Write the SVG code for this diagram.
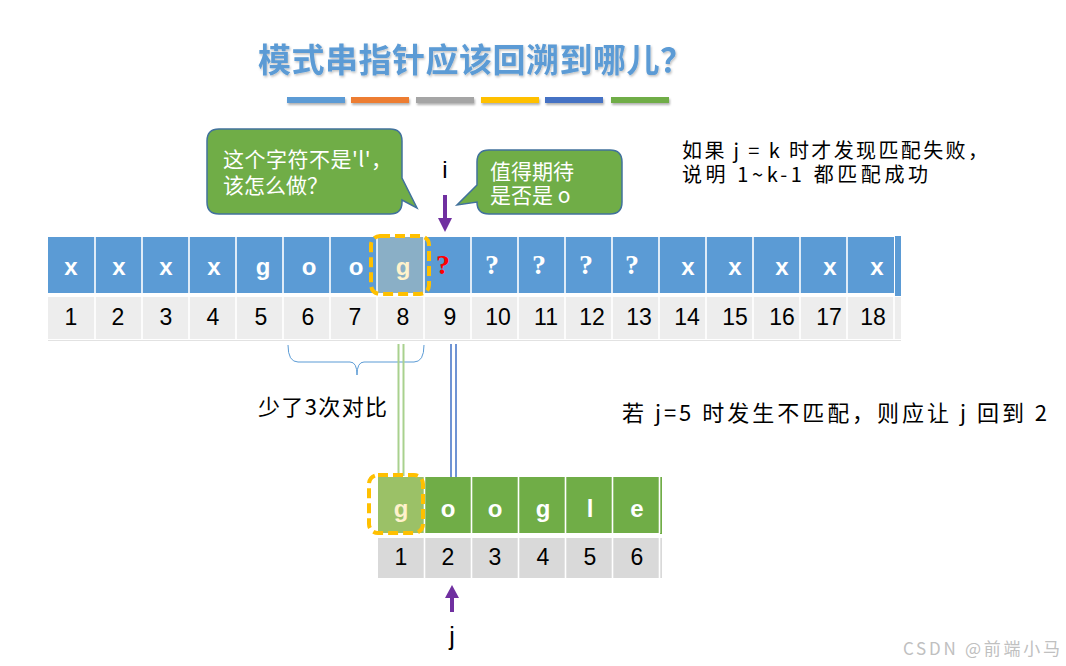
<svg xmlns="http://www.w3.org/2000/svg" width="1066" height="666" viewBox="0 0 1066 666">
<defs>
<filter id="sh" x="-10%" y="-40%" width="130%" height="200%">
<feDropShadow dx="1" dy="2" stdDeviation="1.2" flood-color="#000" flood-opacity="0.3"/>
</filter>
<filter id="tsh" x="-5%" y="-20%" width="110%" height="150%">
<feDropShadow dx="1" dy="1.5" stdDeviation="1" flood-color="#000" flood-opacity="0.25"/>
</filter>
</defs>
<style>
.cjk{font-family:"Noto Sans CJK SC","Noto Sans",sans-serif;}
.lat{font-family:"Liberation Sans",Arial,sans-serif;}
.cell{font-family:"Liberation Sans",Arial,sans-serif;font-weight:bold;font-size:24px;fill:#fff;text-anchor:middle;}
.q{font-family:"Liberation Serif","Times New Roman",serif;font-weight:bold;font-size:28px;fill:#fff;text-anchor:middle;}
.num{font-family:"Liberation Sans",Arial,sans-serif;font-size:23px;fill:#000;text-anchor:middle;}
.sep{stroke:#fff;stroke-width:1.6;}
.call{fill:#70AD47;stroke:#41719C;stroke-width:1.5;}
.ctext{font-family:"Noto Sans CJK SC",sans-serif;font-size:21px;fill:#fff;}
.dash{fill:none;stroke:#FFC000;stroke-width:4;stroke-dasharray:10 5;}
.arrow{fill:#7030A0;}
.body{font-family:"Noto Sans CJK SC",sans-serif;fill:#000;}
</style>
<rect width="1066" height="666" fill="#fff"/>

<g id="title">
<text x="258" y="72" class="cjk" font-size="33" font-weight="bold" fill="#5B9BD5" filter="url(#tsh)" textLength="435" lengthAdjust="spacing">模式串指针应该回溯到哪儿？</text>
<g filter="url(#sh)">
<rect x="287" y="97" width="58" height="6" fill="#5B9BD5"/>
<rect x="351" y="97" width="58" height="6" fill="#ED7D31"/>
<rect x="416" y="97" width="58" height="6" fill="#A5A5A5"/>
<rect x="481" y="97" width="58" height="6" fill="#FFC000"/>
<rect x="545" y="97" width="58" height="6" fill="#4472C4"/>
<rect x="611" y="97" width="58" height="6" fill="#70AD47"/>
</g>
</g>

<g id="callout-l">
<path class="call" d="M219,129 H390 Q402,129 402,141 V178 L417,208 L402,200 V202 Q402,214 390,214 H219 Q207,214 207,202 V141 Q207,129 219,129 Z"/>
<text class="ctext" x="223" y="167" textLength="169" lengthAdjust="spacing">这个字符不是'l'，</text>
<text class="ctext" x="223" y="193">该怎么做？</text>
</g>

<g id="callout-o">
<path class="call" d="M489,150 H610 Q622,150 622,162 V202 Q622,214 610,214 H489 Q477,214 477,202 L457,205 L477,185 V162 Q477,150 489,150 Z"/>
<text class="ctext" x="490" y="179">值得期待</text>
<text class="ctext" x="490" y="203">是否是 o</text>
</g>

<g id="pointer-i">
<text x="445" y="178" class="lat" font-size="24" text-anchor="middle">i</text>
<rect x="443" y="195" width="4" height="24" class="arrow"/>
<polygon points="438,218 452,218 445,232" class="arrow"/>
</g>

<g id="note-top">
<text x="682" y="158" class="body" font-size="20" textLength="306" lengthAdjust="spacing">如果 j = k 时才发现匹配失败，</text>
<text x="682" y="182" class="body" font-size="20" textLength="246" lengthAdjust="spacing">说明 1~k-1 都匹配成功</text>
</g>

<g id="main-string">
<rect x="48" y="237" width="846" height="56" fill="#5B9BD5"/>
<rect x="895" y="236" width="6" height="60" fill="#5B9BD5"/>
<rect x="377" y="237" width="47" height="56" fill="#8AAFC6"/>
<path class="sep" d="M95,237V293M142,237V293M189,237V293M236,237V293M283,237V293M330,237V293M377,237V293M424,237V293M471,237V293M518,237V293M565,237V293M612,237V293M659,237V293M706,237V293M753,237V293M800,237V293M847,237V293"/>
<rect x="48" y="297" width="853" height="42" fill="#EDEDED"/>
<path class="sep" d="M95,297V339M142,297V339M189,297V339M236,297V339M283,297V339M330,297V339M377,297V339M424,297V339M471,297V339M518,297V339M565,297V339M612,297V339M659,297V339M706,297V339M753,297V339M800,297V339M847,297V339M894,297V339"/>
<line x1="48" y1="340.5" x2="901" y2="340.5" stroke="#E2E2E2" stroke-width="1"/>
<text class="cell" x="71" y="275">x</text>
<text class="cell" x="119" y="275">x</text>
<text class="cell" x="166" y="275">x</text>
<text class="cell" x="214" y="275">x</text>
<text class="cell" x="263" y="275">g</text>
<text class="cell" x="309" y="275">o</text>
<text class="cell" x="356" y="275">o</text>
<text class="cell" x="403" y="275" style="fill:#FFF2CC">g</text>
<text class="q" x="443" y="274" style="fill:#FF0000">?</text>
<text class="q" x="492" y="274">?</text>
<text class="q" x="539" y="274">?</text>
<text class="q" x="586" y="274">?</text>
<text class="q" x="632" y="274">?</text>
<text class="cell" x="688" y="275">x</text>
<text class="cell" x="735" y="275">x</text>
<text class="cell" x="782" y="275">x</text>
<text class="cell" x="830" y="275">x</text>
<text class="cell" x="877" y="275">x</text>
<text class="num" x="71" y="325">1</text>
<text class="num" x="118" y="325">2</text>
<text class="num" x="166" y="325">3</text>
<text class="num" x="213" y="325">4</text>
<text class="num" x="261" y="325">5</text>
<text class="num" x="308" y="325">6</text>
<text class="num" x="355" y="325">7</text>
<text class="num" x="403" y="325">8</text>
<text class="num" x="450" y="325">9</text>
<text class="num" x="498" y="325">10</text>
<text class="num" x="546" y="325">11</text>
<text class="num" x="592" y="325">12</text>
<text class="num" x="639" y="325">13</text>
<text class="num" x="687" y="325">14</text>
<text class="num" x="735" y="325">15</text>
<text class="num" x="782" y="325">16</text>
<text class="num" x="829" y="325">17</text>
<text class="num" x="873" y="325">18</text>
<rect class="dash" x="371" y="236" width="58" height="58" rx="9"/>
</g>

<g id="connectors">
<path d="M288,345 Q288,362 298,362 L350,362 Q357,362 357,375 Q357,362 364,362 L414,362 Q424,362 424,345" fill="none" stroke="#5B9BD5" stroke-width="1"/>
<line x1="398.5" y1="344" x2="398.5" y2="476" stroke="#A9D18E" stroke-width="2"/>
<line x1="403.5" y1="344" x2="403.5" y2="476" stroke="#A9D18E" stroke-width="2"/>
<line x1="451" y1="344" x2="451" y2="477" stroke="#6F94D4" stroke-width="2"/>
<line x1="456" y1="344" x2="456" y2="477" stroke="#6F94D4" stroke-width="2"/>
</g>

<g id="label-less">
<text x="258" y="415" class="body" font-size="22" textLength="129" lengthAdjust="spacing">少了3次对比</text>
</g>

<g id="note-bottom">
<text x="622" y="421" class="body" font-size="22" textLength="425" lengthAdjust="spacing">若 j=5 时发生不匹配，则应让 j 回到 2</text>
</g>

<g id="pattern-string">
<rect x="378" y="477" width="282" height="56" fill="#70AD47"/>
<rect x="660" y="477" width="2" height="57" fill="#70AD47"/>
<rect x="378" y="477" width="46" height="56" fill="#9BC167"/>
<path class="sep" d="M424.5,477V533M471.5,477V533M518.5,477V533M565.5,477V533M612.5,477V533M659.5,477V533"/>
<rect x="378" y="538" width="284" height="40" fill="#D9D9D9"/>
<path class="sep" d="M424.5,538V578M471.5,538V578M518.5,538V578M565.5,538V578M612.5,538V578M659.5,538V578"/>
<text class="cell" x="401" y="517" style="fill:#FFF2CC">g</text>
<text class="cell" x="448" y="517">o</text>
<text class="cell" x="495" y="517">o</text>
<text class="cell" x="543" y="517">g</text>
<text class="cell" x="590" y="517">l</text>
<text class="cell" x="637" y="517">e</text>
<text class="num" x="401" y="565">1</text>
<text class="num" x="448" y="565">2</text>
<text class="num" x="495" y="565">3</text>
<text class="num" x="543" y="565">4</text>
<text class="num" x="590" y="565">5</text>
<text class="num" x="637" y="565">6</text>
<rect class="dash" x="369" y="475" width="54" height="58" rx="9"/>
</g>

<g id="pointer-j">
<polygon points="445,598 459,598 452,585" class="arrow"/>
<rect x="450" y="597" width="4" height="15" class="arrow"/>
<text x="452" y="645" class="lat" font-size="25" text-anchor="middle">j</text>
</g>

<g id="watermark">
<text x="903" y="655" class="cjk" font-size="17" fill="#C0C0C0" textLength="157" lengthAdjust="spacing">CSDN @前端小马</text>
</g>
</svg>
